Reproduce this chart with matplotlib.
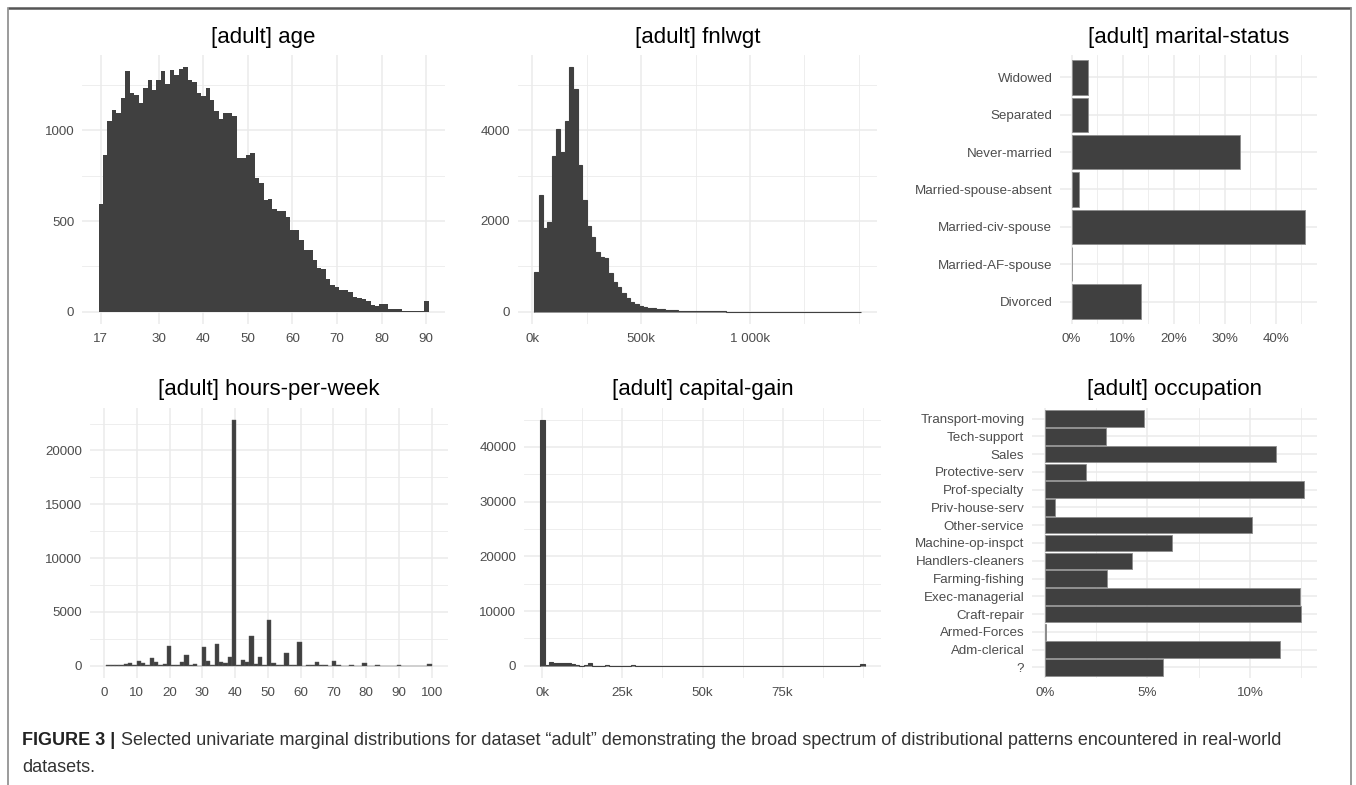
import numpy as np
import matplotlib
matplotlib.use("Agg")
import matplotlib.pyplot as plt
from matplotlib.ticker import FixedLocator, FuncFormatter

plt.rcParams["font.family"] = ["Liberation Sans", "DejaVu Sans"]

# ---- data ----
age_values = np.arange(17, 91)
age_counts = [595, 862, 1053, 1113, 1096, 1178, 1329, 1206, 1195, 1153,
              1232, 1280, 1223, 1278, 1325, 1253, 1335, 1303, 1337, 1348,
              1280, 1264, 1206, 1187, 1235, 1165, 1104, 1060, 1096, 1097,
              1081, 845, 847, 866, 877, 738, 711, 618, 621, 564,
              555, 555, 523, 449, 450, 394, 340, 340, 284, 240,
              238, 180, 150, 135, 120, 120, 108, 80, 76, 72,
              57, 36, 34, 42, 41, 15, 13, 13, 7, 3,
              5, 6, 3, 60]

fnlwgt_min, fnlwgt_max = 12285, 1490400
fnlwgt_counts = [880, 2580, 1847, 1979, 3438, 4017, 3511, 4207, 5388, 4904,
                 3240, 2456, 1898, 1657, 1320, 1210, 1188, 858, 660, 550,
                 403, 308, 220, 176, 132, 103, 80, 73, 59, 59,
                 44, 37, 32, 28, 24, 20, 18, 15, 13, 11,
                 10, 9, 8, 7, 6, 5, 5, 4, 4, 3,
                 3, 3, 2, 2, 2, 2, 1, 1, 1, 1,
                 1, 1, 1, 1, 1, 1, 1, 1, 1, 1,
                 1, 1, 1, 1, 2]

marital_labels = ["Divorced", "Married-AF-spouse", "Married-civ-spouse",
                  "Married-spouse-absent", "Never-married", "Separated", "Widowed"]
marital_pct = [13.6, 0.08, 45.8, 1.4, 33.0, 3.15, 3.15]

hours_values = [1, 2, 3, 4, 5, 6, 7, 8, 9, 10, 11, 12, 13, 14, 15, 16, 17, 18, 19, 20,
                21, 22, 23, 24, 25, 26, 27, 28, 29, 30, 31, 32, 33, 34, 35, 36, 37, 38, 39, 40,
                41, 42, 43, 44, 45, 46, 47, 48, 49, 50, 51, 52, 53, 54, 55, 56, 57, 58, 59, 60,
                61, 62, 63, 64, 65, 66, 67, 68, 69, 70, 72, 73, 74, 75, 76, 77, 78, 79, 80,
                81, 82, 84, 85, 86, 87, 88, 89, 90, 91, 92, 94, 95, 96, 97, 98, 99]
hours_counts = [27, 53, 59, 84, 95, 92, 45, 262, 28, 420, 16, 256, 36, 55, 619, 304, 45, 115, 19, 1862,
                37, 66, 32, 359, 958, 49, 48, 137, 10, 1700, 8, 419, 55, 40, 1937, 331, 225, 714, 58, 22803,
                52, 343, 225, 310, 2717, 118, 73, 770, 42, 4246, 20, 206, 37, 63, 1051, 138, 27, 40, 7, 2177,
                4, 29, 13, 23, 376, 24, 7, 18, 1, 453, 103, 2, 1, 103, 5, 9, 12, 1, 211,
                3, 1, 60, 19, 2, 1, 5, 3, 42, 3, 1, 1, 2, 9, 2, 14, 137]

gain_min, gain_max = 0, 99999
gain_counts = np.zeros(75)
gain_nonzero = {0: 44860, 1: 170, 2: 620, 3: 480, 4: 430, 5: 520, 6: 540, 7: 300,
                8: 150, 9: 30, 10: 110, 11: 560, 12: 12, 13: 20, 14: 5, 15: 60,
                16: 5, 19: 25, 21: 60, 25: 8, 31: 4, 74: 244}
for k, v in gain_nonzero.items():
    gain_counts[k] = v

occ_labels = ["?", "Adm-clerical", "Armed-Forces", "Craft-repair", "Exec-managerial",
              "Farming-fishing", "Handlers-cleaners", "Machine-op-inspct", "Other-service",
              "Priv-house-serv", "Prof-specialty", "Protective-serv", "Sales",
              "Tech-support", "Transport-moving"]
occ_pct = [5.75, 11.49, 0.03, 12.51, 12.46, 3.05, 4.24, 6.19, 10.08, 0.50,
           12.64, 2.01, 11.27, 2.96, 4.82]

# ---- styling ----
W, H = 1356, 785
BAR = "#404040"
GRID = "#ebebeb"
TXT = "#4d4d4d"

fig = plt.figure(figsize=(W / 100, H / 100), dpi=100)

# overlay for frame and caption (pixel coordinates)
ov = fig.add_axes([0, 0, 1, 1], zorder=-1)
ov.set_xlim(0, W)
ov.set_ylim(H, 0)
ov.axis("off")
ov.plot([8, 1351], [8, 8], color="#555555", lw=1.8, solid_capstyle="butt")
ov.plot([8, 8], [8, H], color="#8a8a8a", lw=1.2)
ov.plot([1351, 1351], [8, H], color="#8a8a8a", lw=1.2)
t1 = ov.text(22, 749, "FIGURE 3 |", fontsize=13, fontweight="bold", color="#222222",
             va="bottom")
ov.annotate("Selected univariate marginal distributions for dataset \u201cadult\u201d "
            "demonstrating the broad spectrum of distributional patterns encountered in real-world",
            xy=(1, 0), xycoords=t1, xytext=(4, 0), textcoords="offset points",
            fontsize=13, color="#333333", va="bottom")
ov.text(22, 776, "datasets.", fontsize=13, color="#333333", va="bottom")


def panel(x0, x1, y0, y1):
    ax = fig.add_axes([x0 / W, 1 - y1 / H, (x1 - x0) / W, (y1 - y0) / H])
    for s in ax.spines.values():
        s.set_visible(False)
    ax.tick_params(which="both", length=0, labelsize=9.6, labelcolor=TXT, pad=5.5)
    ax.tick_params(axis="x", pad=6.5)
    ax.grid(True, which="major", color=GRID, lw=1.1)
    ax.grid(True, which="minor", color=GRID, lw=0.6)
    ax.set_axisbelow(True)
    return ax


def hist_edges(lo, hi, n):
    # same bin rule as ggplot2 geom_histogram(bins = n)
    w = (hi - lo) / (n - 1)
    origin = w / 2 + np.floor((lo - w / 2) / w) * w
    return origin + w * np.arange(n + 1)


def set_hist_limits(ax, edges, ymax):
    span = edges[-1] - edges[0]
    ax.set_xlim(edges[0] - 0.05 * span, edges[-1] + 0.05 * span)
    ax.set_ylim(-0.05 * ymax, 1.05 * ymax)


def title(ax, s):
    ax.set_title(s, fontsize=16, color="black", pad=9)


# age
ax = panel(82, 445, 55, 324)
e = hist_edges(age_values.min(), age_values.max(), len(age_values))
ax.hist(age_values, bins=e, weights=age_counts, color=BAR)
set_hist_limits(ax, e, max(age_counts))
ax.set_xticks([17, 30, 40, 50, 60, 70, 80, 90])
ax.set_yticks([0, 500, 1000])
ax.yaxis.set_minor_locator(FixedLocator([250, 750, 1250]))
title(ax, "[adult] age")

# fnlwgt
ax = panel(518, 877, 55, 324)
e = hist_edges(fnlwgt_min, fnlwgt_max, len(fnlwgt_counts))
ax.stairs(fnlwgt_counts, e, fill=True, facecolor=BAR, edgecolor=BAR, lw=0.8)
set_hist_limits(ax, e, max(fnlwgt_counts))
ax.set_xticks([0, 500000, 1000000])
ax.set_xticklabels(["0k", "500k", "1 000k"])
ax.xaxis.set_minor_locator(FixedLocator([250000, 750000, 1250000, 1500000]))
ax.set_yticks([0, 2000, 4000])
ax.yaxis.set_minor_locator(FixedLocator([1000, 3000, 5000]))
title(ax, "[adult] fnlwgt")

pct = FuncFormatter(lambda v, p: f"{v:.0f}%")

# marital-status
ax = panel(1060, 1317, 55, 324)
pos = np.arange(len(marital_labels))
ax.barh(pos, marital_pct, height=0.92, color=BAR, edgecolor="#8c8c8c", lw=0.6)
ax.set_yticks(pos)
ax.set_yticklabels(marital_labels)
ax.set_ylim(-0.6, len(marital_labels) - 0.4)
ax.set_xlim(-0.05 * max(marital_pct), 1.05 * max(marital_pct))
ax.set_xticks([0, 10, 20, 30, 40])
ax.xaxis.set_minor_locator(FixedLocator([5, 15, 25, 35, 45]))
ax.xaxis.set_major_formatter(pct)
title(ax, "[adult] marital-status")

# hours-per-week
ax = panel(90, 448, 408, 678)
e = hist_edges(min(hours_values), max(hours_values), 75)
cnt, _, _ = ax.hist(hours_values, bins=e, weights=hours_counts, color=BAR,
                    edgecolor="#5a5a5a", lw=0.3)
set_hist_limits(ax, e, cnt.max())
ax.set_xticks(np.arange(0, 101, 10))
ax.set_yticks([0, 5000, 10000, 15000, 20000])
ax.yaxis.set_minor_locator(FixedLocator([2500, 7500, 12500, 17500, 22500]))
title(ax, "[adult] hours-per-week")

# capital-gain
ax = panel(524, 881, 408, 678)
e = hist_edges(gain_min, gain_max, len(gain_counts))
ax.stairs(gain_counts, e, fill=True, facecolor=BAR, edgecolor=BAR, lw=0.8)
set_hist_limits(ax, e, gain_counts.max())
ax.set_xticks([0, 25000, 50000, 75000])
ax.set_xticklabels(["0k", "25k", "50k", "75k"])
ax.xaxis.set_minor_locator(FixedLocator([12500, 37500, 62500, 87500, 100000]))
ax.set_yticks([0, 10000, 20000, 30000, 40000])
ax.yaxis.set_minor_locator(FixedLocator([5000, 15000, 25000, 35000, 45000]))
title(ax, "[adult] capital-gain")

# occupation
ax = panel(1032, 1317, 408, 678)
pos = np.arange(len(occ_labels))
ax.barh(pos, occ_pct, height=0.93, color=BAR, edgecolor="#8c8c8c", lw=0.6)
ax.set_yticks(pos)
ax.set_yticklabels(occ_labels)
ax.set_ylim(-0.6, len(occ_labels) - 0.4)
ax.set_xlim(-0.05 * max(occ_pct), 1.05 * max(occ_pct))
ax.set_xticks([0, 5, 10])
ax.xaxis.set_minor_locator(FixedLocator([2.5, 7.5, 12.5]))
ax.xaxis.set_major_formatter(pct)
title(ax, "[adult] occupation")

fig.savefig("out.png", dpi=100)
